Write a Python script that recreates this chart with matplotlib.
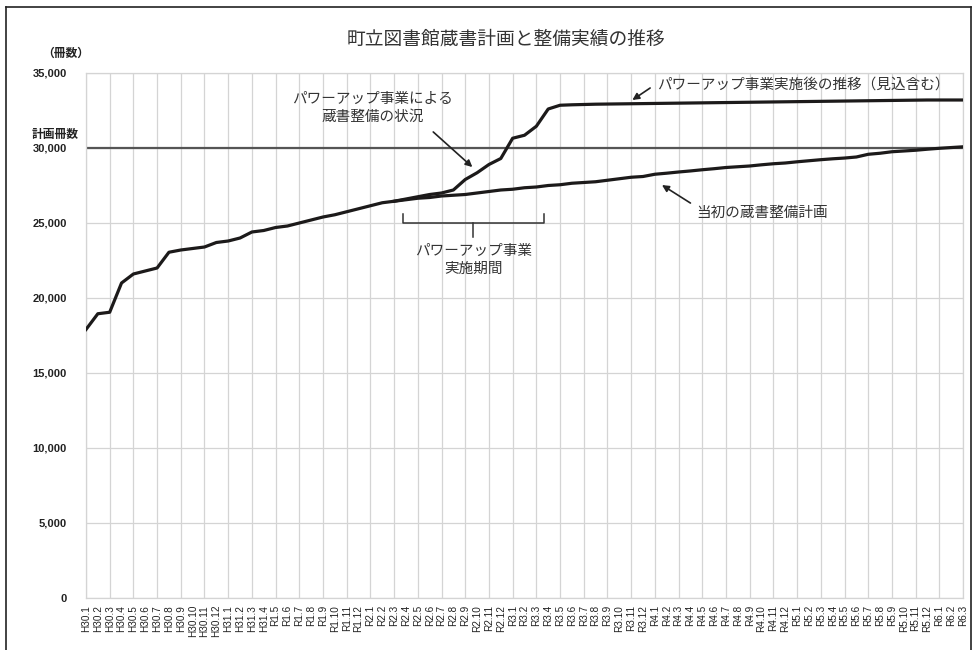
import matplotlib
matplotlib.use("Agg")
import matplotlib.pyplot as plt
from matplotlib.lines import Line2D

plt.rcParams["font.family"] = ["Noto Sans CJK JP", "DejaVu Sans"]

# 月ラベル (H30.1 〜 R6.3)
months = (
    [f"H30.{m}" for m in range(1, 13)]
    + [f"H31.{m}" for m in range(1, 5)]
    + [f"R1.{m}" for m in range(5, 13)]
    + [f"R2.{m}" for m in range(1, 13)]
    + [f"R3.{m}" for m in range(1, 13)]
    + [f"R4.{m}" for m in range(1, 13)]
    + [f"R5.{m}" for m in range(1, 13)]
    + [f"R6.{m}" for m in range(1, 4)]
)

# 当初の蔵書整備計画（実績含む）
plan_books = [
    17900, 18950, 19050, 21000, 21600, 21800, 22000, 23050, 23200, 23300,
    23400, 23700, 23800, 24000, 24400, 24500, 24700, 24800, 25000, 25200,
    25400, 25550, 25750, 25950, 26150, 26350, 26450, 26550, 26650, 26700,
    26800, 26850, 26900, 27000, 27100, 27200, 27250, 27350, 27400, 27500,
    27550, 27650, 27700, 27750, 27850, 27950, 28050, 28100, 28250, 28320,
    28400, 28470, 28550, 28620, 28700, 28750, 28800, 28880, 28950, 29000,
    29080, 29150, 29220, 29280, 29330, 29400, 29580, 29650, 29750, 29800,
    29850, 29920, 29980, 30030, 30080,
]

# パワーアップ事業による蔵書整備（R2.3〜）
powerup_start = 26
powerup_books = [
    26450, 26600, 26750, 26900, 27000, 27200, 27900, 28350, 28900, 29300,
    30650, 30850, 31450, 32600, 32850, 32880, 32900, 32920, 32930, 32940,
    32950, 32960, 32970, 32980, 32990, 33000, 33010, 33020, 33030, 33040,
    33050, 33060, 33070, 33080, 33090, 33100, 33110, 33120, 33130, 33140,
    33150, 33160, 33170, 33180, 33190, 33200, 33200, 33200, 33200,
]

target_books = 30000
y_ticks = [0, 5000, 10000, 15000, 20000, 25000, 30000, 35000]

x = list(range(len(months)))
x_power = list(range(powerup_start, powerup_start + len(powerup_books)))

fig = plt.figure(figsize=(9.77, 6.5), dpi=100)
ax = fig.add_axes([0.088, 0.08, 0.8977, 0.8077])

line_col = "#1c1a1a"
ax.axhline(target_books, color="#555555", lw=1.6, zorder=2)
ax.plot(x, plan_books, color=line_col, lw=2.3, zorder=3, solid_joinstyle="round")
ax.plot(x_power, powerup_books, color=line_col, lw=2.3, zorder=3, solid_joinstyle="round")

ax.set_xlim(0, len(months) - 1)
ax.set_ylim(0, 35000)
ax.set_yticks(y_ticks)
ax.set_yticklabels([f"{v:,}" for v in y_ticks], fontsize=8, color="#222222",
                   family="Liberation Sans", fontweight="bold")
ax.set_xticks(x)
ax.set_xticklabels(months, rotation=90, fontsize=7.2, color="#222222",
                   ha="center", va="top", family="Liberation Sans")
ax.tick_params(axis="x", length=0, pad=5)
ax.tick_params(axis="y", length=0, pad=14)

# グリッド（縦は2か月ごと）
for v in y_ticks:
    ax.axhline(v, color="#d4d4d4", lw=0.9, zorder=1)
for i in range(0, len(months), 2):
    ax.axvline(i, color="#d4d4d4", lw=0.9, zorder=1)
for s in ax.spines.values():
    s.set_color("#d4d4d4")
    s.set_linewidth(0.9)

# タイトル・軸ラベル
fig.text(0.518, 0.94, "町立図書館蔵書計画と整備実績の推移", ha="center", va="center",
         fontsize=13.5, color="#333333")
fig.text(0.067, 0.918, "（冊数）", ha="center", va="center", fontsize=8.5,
         color="#222222", fontweight="bold")
fig.text(0.056, 0.793, "計画冊数", ha="center", va="center", fontsize=8.5,
         color="#222222", fontweight="bold")

# 注記
arrow = dict(arrowstyle="-|>", color="#222222", lw=1.2, mutation_scale=10,
             shrinkA=0, shrinkB=0)
txt_kw = dict(fontsize=10.5, color="#333333")

ax.annotate("", xy=(32.6, 28730), xytext=(29.3, 31070), arrowprops=arrow)
ax.text(24.2, 32670, "パワーアップ事業による\n蔵書整備の状況", ha="center", va="center",
        linespacing=1.35, **txt_kw)

ax.annotate("", xy=(46.1, 33200), xytext=(47.6, 34000), arrowprops=arrow)
ax.text(48.2, 34200, "パワーアップ事業実施後の推移（見込含む）", ha="left", va="center",
        **txt_kw)

ax.annotate("", xy=(48.6, 27530), xytext=(51.0, 26330), arrowprops=arrow)
ax.text(51.5, 25670, "当初の蔵書整備計画", ha="left", va="center", **txt_kw)

# 実施期間の括弧
bx0, bx1, bmid = 26.75, 38.65, 32.66
ax.plot([bx0, bx0, bx1, bx1], [25600, 25000, 25000, 25600], color="#333333", lw=1.1)
ax.plot([bmid, bmid], [25000, 24070], color="#333333", lw=1.1)
ax.text(bmid, 22530, "パワーアップ事業\n実施期間", ha="center", va="center",
        linespacing=1.35, **txt_kw)

# 外枠
W, H = 977, 650
for xs, ys in [([6, 6], [0, H - 7]), ([6, 971], [H - 7, H - 7]), ([971, 971], [0, H - 7])]:
    fig.add_artist(Line2D([a / W for a in xs], [b / H for b in ys],
                          color="#222222", lw=1.2))

plt.savefig("out.png", dpi=100)
plt.close(fig)
